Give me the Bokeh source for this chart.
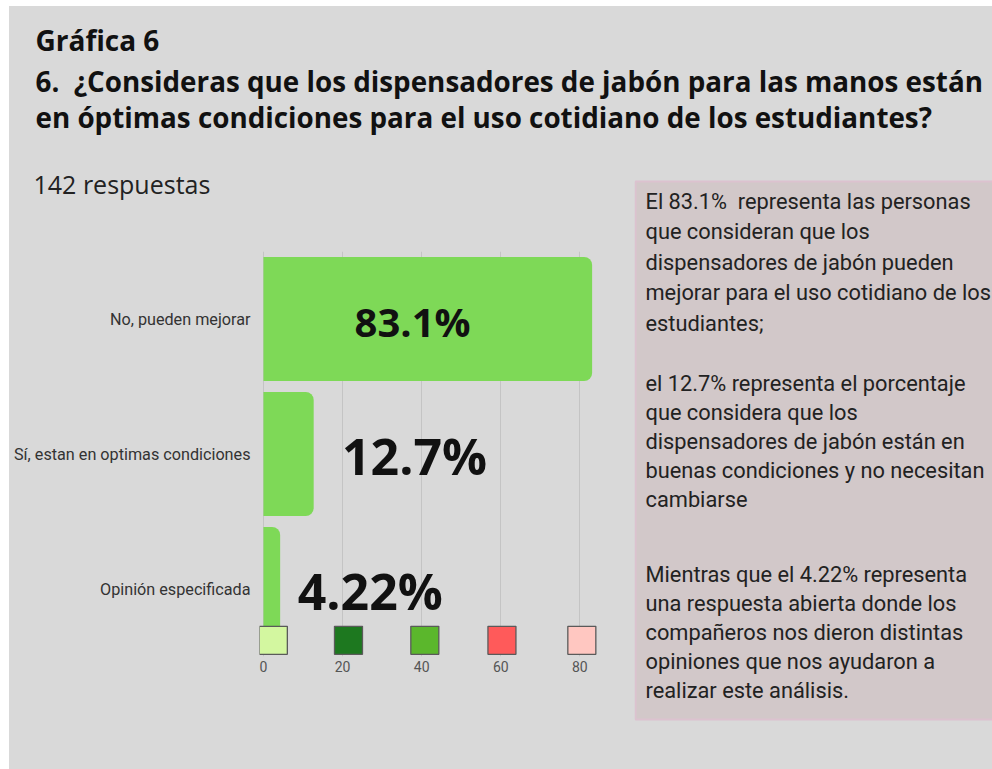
from bokeh.plotting import figure
from bokeh.layouts import column, row, Spacer
from bokeh.models import Range1d, FactorRange, ColumnDataSource, FixedTicker
from bokeh.transform import dodge
from bokeh.core.properties import value
from bokeh.embed import file_html
from bokeh.resources import INLINE

# ---------------- data ----------------
categories = ["Opinión especificada", "Sí, estan en optimas condiciones", "No, pueden mejorar"]  # bottom -> top
percent = [4.22, 12.7, 83.1]
ticks = [0, 20, 40, 60, 80]
tick_colors = ["#d3f7a0", "#1d781f", "#5bb72c", "#ff5a5a", "#ffc7c1"]

heading = "Gráfica 6"
question = ["6.\u00a0 ¿Consideras que los dispensadores de jabón para las manos están",
            "en óptimas condiciones para el uso cotidiano de los estudiantes?"]
responses = "142 respuestas"
note_paragraphs = [
    ["El 83.1%\u00a0 representa las personas",
     "que consideran que los",
     "dispensadores de jabón pueden",
     "mejorar para el uso cotidiano de los",
     "estudiantes;"],
    ["el 12.7% representa el porcentaje",
     "que considera que los",
     "dispensadores de jabón están en",
     "buenas condiciones y no necesitan",
     "cambiarse"],
    ["Mientras que el 4.22% representa",
     "una respuesta abierta donde los",
     "compañeros nos dieron distintas",
     "opiniones que nos ayudaron a",
     "realizar este análisis."],
]

# ---------------- layout / style ----------------
BG = "#d9d9d9"
INK = "#111111"
label_x = [27.0, 38.2, 37.7]          # positions of the big % labels (data units)
label_size = ["50px", "50px", "40px"]
square_nudge = [2.5, 1.5, 0.8, 0.3, 0.5]
para_top = [33, 215, 406]             # local y of first line centre of each paragraph
para_step = [30.4, 29.0, 29.0]


def canvas_fig(w, h):
    f = figure(width=w, height=h, x_range=Range1d(0, w), y_range=Range1d(h, 0),
               output_backend="svg", toolbar_location=None, min_border=0)
    f.title.visible = False
    f.axis.visible = False
    f.grid.visible = False
    f.outline_line_color = None
    f.background_fill_color = None
    f.border_fill_color = None
    f.frame_align = False
    return f


# header
T = canvas_fig(983, 162)
T.text(x=[26], y=[33], text=[heading], text_font=value("Open Sans"), text_font_style="bold",
       text_font_size="28px", text_color=INK, text_baseline="middle")
T.text(x=[26, 26], y=[74, 110], text=question, text_font=value("Open Sans"),
       text_font_style="bold", text_font_size="27.8px", text_color=INK,
       text_baseline="middle")

# "142 respuestas"
S = canvas_fig(625, 40)
S.text(x=[24], y=[15], text=[responses], text_font=value("Open Sans"),
       text_font_size="25px", text_color="#222222", text_baseline="middle")

# bar chart
BW, BH = 625, 561
FL, FT, FW, FH = 250, 43, 352, 405
B = figure(width=BW, height=BH, x_range=Range1d(-1, 88), y_range=FactorRange(*categories),
           output_backend="svg", toolbar_location=None,
           min_border_left=FL, min_border_right=BW - FL - FW,
           min_border_top=FT, min_border_bottom=BH - FT - FH)
B.frame_align = False
B.background_fill_color = None
B.border_fill_color = None
B.outline_line_color = None

B.ygrid.grid_line_color = None
B.xgrid.ticker = FixedTicker(ticks=ticks)
B.xgrid.grid_line_color = "#c4c4c4"
B.xgrid.grid_line_width = 1

B.xaxis.ticker = FixedTicker(ticks=ticks)
B.xaxis.axis_line_color = None
B.xaxis.major_tick_line_color = None
B.xaxis.minor_tick_line_color = None
B.xaxis.major_tick_out = 0
B.xaxis.major_label_standoff = 4
B.xaxis.major_label_text_font = "Roboto"
B.xaxis.major_label_text_font_size = "14px"
B.xaxis.major_label_text_color = "#555555"

B.yaxis.axis_line_color = None
B.yaxis.major_tick_line_color = None
B.yaxis.minor_tick_line_color = None
B.yaxis.major_tick_out = 0
B.yaxis.major_label_standoff = 9
B.yaxis.major_label_text_font = "Roboto"
B.yaxis.major_label_text_font_size = "16.2px"
B.yaxis.major_label_text_color = "#333333"

src = ColumnDataSource(dict(cat=categories, val=percent, lx=label_x,
                            txt=[f"{v}%" for v in percent], fs=label_size))
B.hbar(y="cat", left=0, right="val", height=0.92, source=src,
       fill_color="#7ed957", line_color=None, border_radius=(0, 8, 8, 0))

B.text(x="lx", y="cat", text="txt", source=src, text_font=value("Open Sans"),
       text_font_style="bold", text_font_size="fs", text_color=INK,
       text_align="center", text_baseline="middle", y_offset=2)

sq = ColumnDataSource(dict(x=[t + n for t, n in zip(ticks, square_nudge)],
                           y=[categories[0]] * len(ticks), c=tick_colors))
B.scatter(x="x", y=dodge("y", -0.38, range=B.y_range), source=sq, marker="square",
          size=28, fill_color="c", line_color="#5a5a5a", line_width=1.3)

# commentary box
R = canvas_fig(358, 601)
R.quad(left=[1], right=[362], top=[13], bottom=[551], fill_color="#d2c8c9",
       line_color="#dcc2cf", line_width=2)
xs, ys, lines = [], [], []
for para, top, step in zip(note_paragraphs, para_top, para_step):
    for j, line in enumerate(para):
        xs.append(11)
        ys.append(top + step * j)
        lines.append(line)
R.text(x=xs, y=ys, text=lines, text_font=value("Roboto"), text_font_size="21.8px",
       text_color="#222222", text_baseline="middle")

inner = column(T, row(column(S, B), R), styles={"background-color": BG})
layout = column(Spacer(height=6), row(Spacer(width=9), inner))

open("out.html", "w").write(file_html(layout, INLINE))
